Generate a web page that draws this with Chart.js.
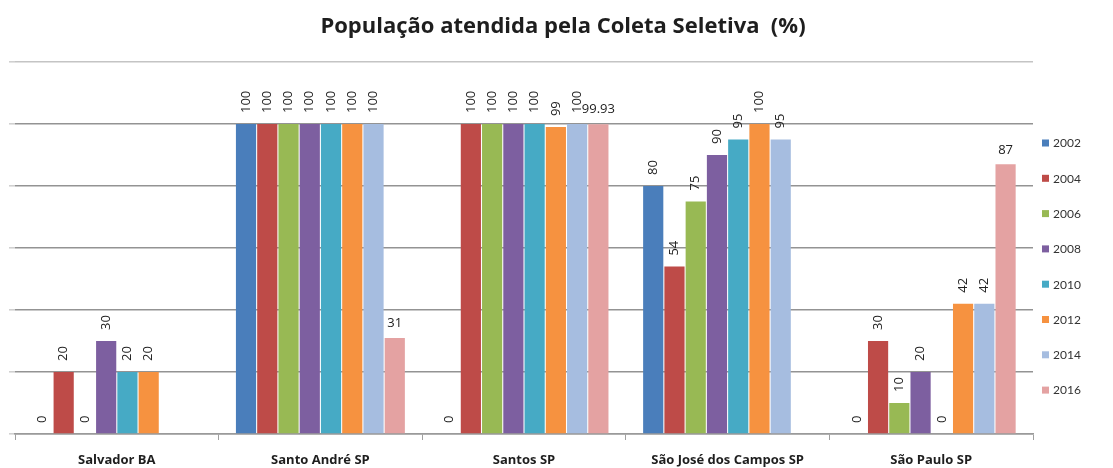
<!DOCTYPE html>
<html>
<head>
<meta charset="utf-8">
<script src="https://cdn.jsdelivr.net/npm/chart.js@4"></script>
<style>
  html, body { margin: 0; padding: 0; background: #ffffff; }
  #wrap { width: 1113px; height: 468px; }
</style>
</head>
<body>
<div id="wrap"><canvas id="c" width="1113" height="468"></canvas></div>
<script>
const chartTitle = 'População atendida pela Coleta Seletiva  (%)';
const categories = ['Salvador BA', 'Santo André SP', 'Santos SP', 'São José dos Campos SP', 'São Paulo SP'];
const seriesNames = ['2002', '2004', '2006', '2008', '2010', '2012', '2014', '2016'];
const v2002 = [0, 100, 0, 80, 0];
const v2004 = [20, 100, 100, 54, 30];
const v2006 = [0, 100, 100, 75, 10];
const v2008 = [30, 100, 100, 90, 20];
const v2010 = [20, 100, 100, 95, 0];
const v2012 = [20, 100, 99, 100, 42];
const v2014 = [null, 100, 100, 95, 42];
const v2016 = [null, 31, 99.93, null, 87];
const seriesValues = [v2002, v2004, v2006, v2008, v2010, v2012, v2014, v2016];
const yTicks = [0, 20, 40, 60, 80, 100, 120];
const horizontalLabelSeries = ['2016'];

const colors = ['#4a7ebb', '#be4b48', '#98b954', '#7d5fa0', '#46aac5', '#f69240', '#a6bde0', '#e4a2a2'];

const datasets = seriesNames.map((name, i) => ({
  label: name,
  data: seriesValues[i],
  backgroundColor: colors[i],
  borderWidth: 0,
  barPercentage: 0.95,
  categoryPercentage: 0.835
}));

const valueLabels = {
  id: 'valueLabels',
  afterDatasetsDraw(chart) {
    const ctx = chart.ctx;
    chart.data.datasets.forEach((ds, di) => {
      const meta = chart.getDatasetMeta(di);
      meta.data.forEach((bar, i) => {
        const v = ds.data[i];
        if (v === null || v === undefined) return;
        const text = String(v);
        ctx.save();
        ctx.fillStyle = '#222222';
        ctx.font = '13px "Open Sans"';
        if (horizontalLabelSeries.includes(ds.label)) {
          ctx.textAlign = 'center';
          ctx.textBaseline = 'bottom';
          ctx.fillText(text, bar.x, bar.y - 8);
        } else {
          ctx.translate(bar.x, bar.y - 11);
          ctx.rotate(-Math.PI / 2);
          ctx.textAlign = 'left';
          ctx.textBaseline = 'middle';
          ctx.fillText(text, 0, 0);
        }
        ctx.restore();
      });
    });
  }
};

const sideLegend = {
  id: 'sideLegend',
  afterDraw(chart) {
    const ctx = chart.ctx;
    const area = chart.chartArea;
    const x0 = area.right + 9;
    const top = 143;
    const step = 35.3;
    chart.data.datasets.forEach((ds, i) => {
      const y = top + i * step;
      ctx.save();
      ctx.fillStyle = ds.backgroundColor;
      ctx.fillRect(x0, y - 3.5, 7, 7);
      ctx.fillStyle = '#333333';
      ctx.font = '12px Lato';
      ctx.textAlign = 'left';
      ctx.textBaseline = 'middle';
      ctx.fillText(ds.label, x0 + 11, y + 0.5);
      ctx.restore();
    });
  }
};

const topTitle = {
  id: 'topTitle',
  afterDraw(chart) {
    const ctx = chart.ctx;
    ctx.save();
    ctx.fillStyle = '#1e1e1e';
    ctx.font = 'bold 22px "Open Sans"';
    ctx.textAlign = 'center';
    ctx.textBaseline = 'middle';
    ctx.fillText(chartTitle, 563, 27);
    ctx.restore();
  }
};

new Chart(document.getElementById('c'), {
  type: 'bar',
  data: { labels: categories, datasets },
  plugins: [valueLabels, sideLegend, topTitle],
  options: {
    responsive: false,
    animation: false,
    devicePixelRatio: 1,
    layout: { padding: { left: 9, right: 80, top: 62, bottom: 0 } },
    plugins: {
      legend: { display: false },
      tooltip: { enabled: false },
      title: { display: false }
    },
    scales: {
      x: {
        afterFit(scale) { scale.height = 34; },
        grid: { display: true, offset: true, drawOnChartArea: false, drawTicks: true, tickLength: 6, color: '#a0a0a0' },
        border: { display: true, color: '#9a9a9a', width: 1.5 },
        ticks: { color: '#1e1e1e', font: { family: 'Open Sans', size: 13, weight: 'bold' }, padding: 12, maxRotation: 0, autoSkip: false }
      },
      y: {
        min: 0,
        max: 120,
        afterBuildTicks(scale) { scale.ticks = yTicks.map(v => ({ value: v })); },
        grid: {
          color: (c) => (c.tick && c.tick.value === 120) ? '#c4c4c4' : '#939393',
          lineWidth: 1.6,
          drawTicks: true,
          tickLength: 6,
          tickColor: '#d0d0d0'
        },
        border: { display: false },
        ticks: { display: false }
      }
    }
  }
});
</script>
</body>
</html>
